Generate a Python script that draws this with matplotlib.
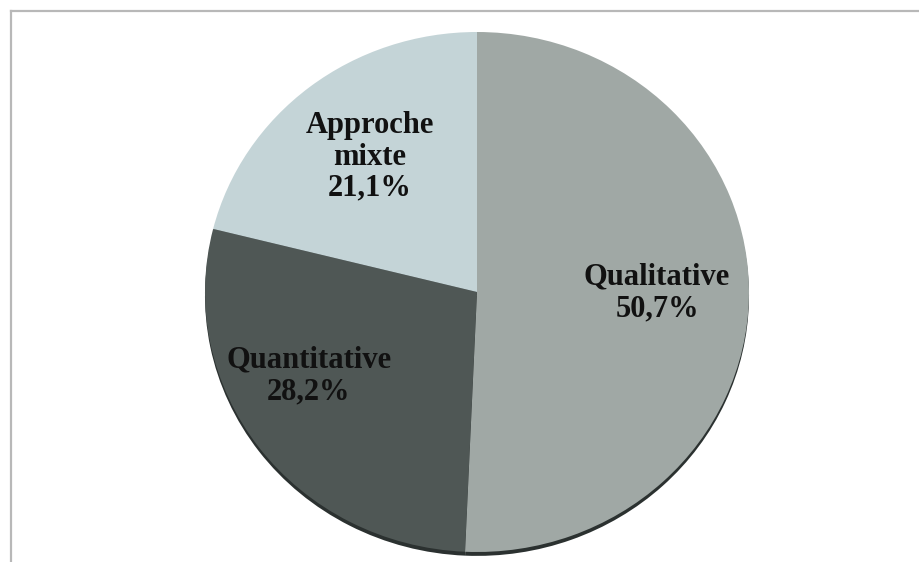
import matplotlib
matplotlib.use('Agg')
from matplotlib import pyplot as plt
from matplotlib.lines import Line2D

labels = ['Qualitative', 'Quantitative', 'Approche\nmixte']
values = [50.7, 28.2, 21.1]
colors = ['#a0a8a5', '#4f5755', '#c4d4d7']
# where the label sits inside each slice (axes units of the pie)
label_pos = [(0.662, -0.004), (-0.618, -0.323), (-0.393, 0.519)]

fig = plt.figure(figsize=(9.2, 5.62), dpi=100)
W, H = 920, 562

# frame around the picture
fig.add_artist(Line2D([11 / W, 11 / W], [0, 1 - 11 / H], color='#b8b8b8', lw=1.6))
fig.add_artist(Line2D([11 / W, 1], [1 - 11 / H, 1 - 11 / H], color='#b8b8b8', lw=1.6))

# pie squashed into an ellipse: centre (477, 292), semi axes 272 x 260 px
cx, cy, rx, ry = 477, 292, 272, 260
ax = fig.add_axes([(cx - rx) / W, 1 - (cy + ry) / H, 2 * rx / W, 2 * ry / H])

# dark side of the tilted pie
ax.pie(values, colors=['#2b3130'] * 3, startangle=90, counterclock=False,
       center=(0, -0.015), radius=1.0)
ax.pie(values, colors=colors, startangle=90, counterclock=False,
       center=(0, 0), radius=1.0)
ax.set_aspect('auto')
ax.set_xlim(-1, 1)
ax.set_ylim(-1, 1)
ax.axis('off')

for lab, v, (x, y) in zip(labels, values, label_pos):
    txt = lab + '\n' + '{:.1f}%'.format(v).replace('.', ',')
    ax.text(x, y, txt, ha='center', va='center', fontsize=22,
            fontweight='bold', family='Liberation Serif', color='#111111',
            linespacing=1.1)

fig.savefig('out.png', dpi=100)
